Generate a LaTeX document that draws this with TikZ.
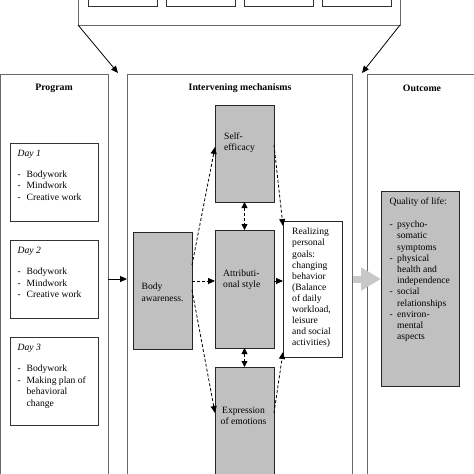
\documentclass[tikz,border=0pt]{standalone}
\usepackage{fontspec}
\setmainfont{Liberation Serif}
\usetikzlibrary{arrows.meta,calc}
\definecolor{boxgray}{RGB}{192,192,192}
\definecolor{arrowgray}{RGB}{200,200,200}
\definecolor{framecol}{RGB}{105,105,105}
\newcommand\bul{\makebox[9pt][l]{-}}
\newcommand\qbul{\makebox[7.5pt][l]{-}}
\begin{document}
\begin{tikzpicture}[x=1pt,y=-1pt,
  font=\fontsize{9.6}{11.2}\selectfont,
  frame/.style={draw=framecol,line width=0.9pt,inner sep=0pt,outer sep=0pt,anchor=north west},
  graybox/.style={draw=black!85,fill=boxgray,line width=0.8pt,inner sep=0pt,outer sep=0pt,anchor=north west},
  whitebox/.style={draw=black!85,fill=white,line width=0.8pt,inner sep=0pt,outer sep=0pt,anchor=north west},
  daybox/.style={draw=black!80,line width=0.8pt,inner sep=0pt,outer sep=0pt,anchor=north west},
  txt/.style={inner sep=0pt,anchor=north west,align=left},
  daytxt/.style={txt,font=\fontsize{9.6}{11.6}\selectfont},
  title/.style={inner sep=0pt,font=\bfseries\fontsize{9.8}{11}\selectfont},
  arr/.style={-{Triangle[length=7pt,width=6pt]},line width=0.8pt,black},
  darr/.style={arr,dash pattern=on 3pt off 2pt},
  dbl/.style={{Triangle[length=6pt,width=6pt]}-{Triangle[length=6pt,width=6pt]},line width=0.8pt,dash pattern=on 3pt off 2pt}
]
\path[use as bounding box] (0,0) rectangle (474,474);
\clip (0,0) rectangle (474,474);
% helper levels
\coordinate (Y145) at (0,145);
\coordinate (Y147) at (0,147);
\coordinate (Y226) at (0,226);
\coordinate (Y265) at (0,265);
\coordinate (Y279) at (0,279);
\coordinate (Y281) at (0,281);
\coordinate (Y290) at (0,290);
\coordinate (Y352) at (0,352);
\coordinate (Y413) at (0,413);
% top box
\node[frame,minimum width=322,minimum height=45] (top) at (78,-20) {};
\node[frame,draw=black!80,minimum width=69,minimum height=26] (t1) at (88,-20) {};
\node[frame,draw=black!80,minimum width=69,minimum height=26] (t2) at (166,-20) {};
\node[frame,draw=black!80,minimum width=69,minimum height=26] (t3) at (244,-20) {};
\node[frame,draw=black!80,minimum width=69,minimum height=26] (t4) at (322,-20) {};
% main columns
\node[frame,minimum width=107.5,minimum height=420] (prog) at (0.5,74) {};
\node[frame,minimum width=225,minimum height=420] (inter) at (127,74) {};
\node[frame,minimum width=120,minimum height=420] (outc) at (367,74) {};
\node[title] (progt) at (54,88) {Program};
\node[title] (intert) at (240,88) {Intervening mechanisms};
\node[title] (outct) at (422,88) {Outcome};
% days
\node[daybox,minimum width=88,minimum height=78] (d1) at (10,143) {};
\node[daybox,minimum width=88,minimum height=78] (d2) at (10,240) {};
\node[daybox,minimum width=88,minimum height=88] (d3) at (10,337) {};
\node[daytxt] (d1t) at (17.5,149.5) {\textit{Day 1}\\[9.5pt]\bul Bodywork\\\bul Mindwork\\\bul Creative work};
\node[daytxt] (d2t) at (17.5,247) {\textit{Day 2}\\[9.5pt]\bul Bodywork\\\bul Mindwork\\\bul Creative work};
\node[daytxt] (d3t) at (17.5,344) {\textit{Day 3}\\[9.5pt]\bul Bodywork\\\bul Making plan of\\\hspace*{9pt}behavioral\\\hspace*{9pt}change};
% mechanisms
\node[graybox,minimum width=59,minimum height=97] (self) at (215,105) {};
\node[graybox,minimum width=59,minimum height=118] (attr) at (215,230) {};
\node[graybox,minimum width=59,minimum height=120] (expr) at (215,367) {};
\node[graybox,minimum width=59,minimum height=117] (body) at (133,232) {};
\node[whitebox,minimum width=59,minimum height=136] (real) at (283,221) {};
\node[txt,font=\fontsize{9.6}{11}\selectfont] (selft) at (224,133) {Self-\\efficacy};
\node[txt,font=\fontsize{9.6}{10.5}\selectfont] (attrt) at (223,270) {Attributi-\\onal style};
\node[inner sep=0pt,align=center,font=\fontsize{9.6}{10.5}\selectfont] (exprt) at (243.5,416) {Expression\\of emotions};
\node[txt,font=\fontsize{9.6}{12}\selectfont] (bodyt) at (141.5,283) {Body\\awareness.};
\node[txt,font=\fontsize{9.6}{11.1}\selectfont] (realt) at (292,228) {Realizing\\personal\\goals:\\changing\\behavior\\(Balance\\of daily\\workload,\\leisure\\and social\\activities)};
% outcome
\node[graybox,minimum width=78,minimum height=195] (qol) at (381,191) {};
\node[txt,font=\fontsize{9.6}{11.2}\selectfont] (qolt) at (389.5,198) {Quality of life:\\[11.5pt]\qbul psycho-\\\hspace*{7.5pt}somatic\\\hspace*{7.5pt}symptoms\\\qbul physical\\\hspace*{7.5pt}health and\\\hspace*{7.5pt}independence\\\qbul social\\\hspace*{7.5pt}relationships\\\qbul environ-\\\hspace*{7.5pt}mental\\\hspace*{7.5pt}aspects};
% connectors
\coordinate (a1) at (118,73);
\coordinate (a2) at (362,73);
\draw[arr] (top.south west) -- (a1);
\draw[arr] (top.south east) -- (a2);
\draw[arr] (prog.east |- Y279) -- (inter.west |- Y279);
\draw[arrowgray,line width=7pt,-{Triangle[length=20pt,width=22pt]}] ([xshift=1pt]inter.east |- Y279) -- (qol.west |- Y279);
\draw[darr] (body.east |- Y265) -- (self.west |- Y147);
\draw[darr] (body.east |- Y281) -- (attr.west |- Y281);
\draw[darr] (body.east |- Y290) -- (expr.west |- Y413);
\draw[dbl] (self.south) -- (attr.north);
\draw[dbl] (attr.south) -- (expr.north);
\draw[darr] (self.east |- Y145) -- (real.west |- Y226);
\draw[arr] (attr.east |- Y281) -- (real.west |- Y281);
\draw[darr] (expr.east |- Y413) -- (real.west |- Y352);
\end{tikzpicture}
\end{document}
